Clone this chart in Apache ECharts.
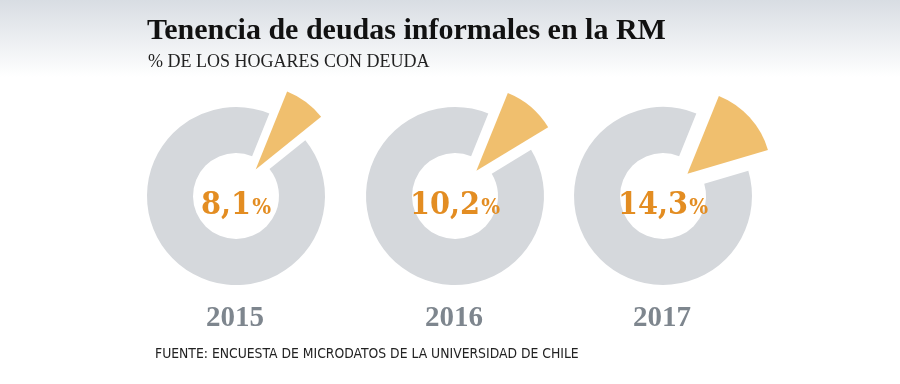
<!DOCTYPE html>
<html>
<head>
<meta charset="utf-8">
<script src="https://cdn.jsdelivr.net/npm/echarts@6/dist/echarts.min.js"></script>
<style>
html,body{margin:0;padding:0;background:#fff;}
#c{width:900px;height:384px;}
</style>
</head>
<body>
<div id="c"></div>
<script>
const years = ['2015', '2016', '2017'];
const shares = [8.1, 10.2, 14.3];
const shareLabels = ['8,1', '10,2', '14,3'];
const titleText = 'Tenencia de deudas informales en la RM';
const subtitleText = '% DE LOS HOGARES CON DEUDA';
const sourceText = 'FUENTE: ENCUESTA DE MICRODATOS DE LA UNIVERSIDAD DE CHILE';

const centersX = [236, 455, 663];
const centerY = 196;
const gray = '#d5d8dc';
const orange = '#f0bf6e';
const textOrange = '#e38d22';
const yearGray = '#7e868e';

const chart = echarts.init(document.getElementById('c'), null, {renderer: 'canvas'});
const series = [];
const titles = [
  {text: titleText, left: 147, top: 16, padding: 0,
   textStyle: {fontFamily: 'Liberation Serif', fontWeight: 'bold', fontSize: 30, color: '#111'}},
  {text: subtitleText, left: 148, top: 53, padding: 0,
   textStyle: {fontFamily: 'Liberation Serif', fontWeight: 'normal', fontSize: 18, color: '#222'}},
  {text: sourceText, left: 155, top: 347, padding: 0,
   textStyle: {fontFamily: 'Liberation Sans Narrow, DejaVu Sans Condensed', fontWeight: 'normal', fontSize: 13.8, color: '#222'}}
];
years.forEach((y, i) => {
  const p = shares[i];
  series.push({
    type: 'pie', silent: true, animation: false,
    center: [centersX[i], centerY], radius: [43, 89],
    startAngle: 68, clockwise: true,
    label: {show: false}, labelLine: {show: false},
    emphasis: {disabled: true},
    data: [
      {value: p, itemStyle: {color: 'rgba(0,0,0,0)'}},
      {value: 100 - p, itemStyle: {color: gray}}
    ]
  });
  series.push({
    type: 'pie', silent: true, animation: false,
    center: [centersX[i], centerY], radius: [0, 84],
    startAngle: 68, clockwise: true,
    selectedMode: 'single', selectedOffset: 33,
    label: {show: false}, labelLine: {show: false},
    emphasis: {disabled: true},
    select: {itemStyle: {color: orange}},
    data: [
      {value: p, selected: true, itemStyle: {color: orange}},
      {value: 100 - p, itemStyle: {color: 'rgba(0,0,0,0)'}}
    ]
  });
  titles.push({
    text: '{n|' + shareLabels[i] + '}{p|%}',
    left: centersX[i], top: 190, textAlign: 'center', padding: 0,
    textStyle: {rich: {
      n: {fontFamily: 'DejaVu Serif Condensed, DejaVu Serif', fontWeight: 'bold', fontSize: 32, color: textOrange},
      p: {fontFamily: 'DejaVu Serif Condensed, DejaVu Serif', fontWeight: 'bold', fontSize: 22, color: textOrange, padding: [5,0,0,1]}
    }}
  });
  titles.push({
    text: y, left: centersX[i] - 1, top: 304, textAlign: 'center', padding: 0,
    textStyle: {fontFamily: 'Liberation Serif', fontWeight: 'bold', fontSize: 29, color: yearGray}
  });
});

chart.setOption({
  animation: false,
  backgroundColor: {
    type: 'linear', x: 0, y: 0, x2: 0, y2: 1,
    colorStops: [
      {offset: 0, color: '#d8dde3'},
      {offset: 0.2, color: '#ffffff'},
      {offset: 1, color: '#ffffff'}
    ]
  },
  title: titles,
  series: series
});
</script>
</body>
</html>
